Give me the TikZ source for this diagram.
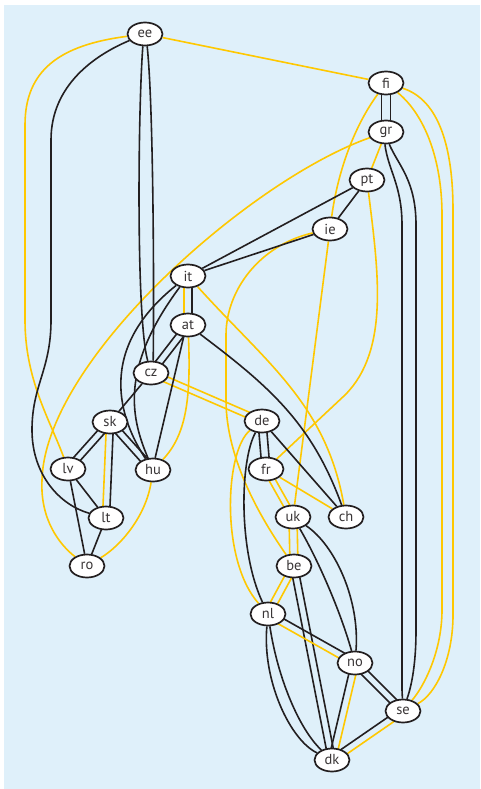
\documentclass[tikz,border=0pt]{standalone}
\usepackage{fontspec}
\setmainfont{PT Sans}
\usetikzlibrary{calc,shapes.geometric}
\definecolor{bgblue}{RGB}{223,240,250}
\definecolor{ylw}{RGB}{255,200,0}
\definecolor{blk}{RGB}{35,31,32}
\pgfdeclarelayer{bg}
\pgfdeclarelayer{edges}
\pgfsetlayers{bg,edges,main}
\tikzset{
  cnode/.style={ellipse, draw=blk, line width=1.7pt, fill=white, minimum width=35pt,
    minimum height=23pt, inner sep=0pt, font=\fontsize{14.5}{14.5}\selectfont, text=blk!90},
  bl/.style={draw=blk, line width=1.6pt},
  yl/.style={draw=ylw, line width=1.6pt},
}
% two parallel straight edges: #2 style on the +90 side, #3 style on the -90 side, #1 half gap
\newcommand\twoedge[5][3.5pt]{%
  \draw[#2] ($(#4)!#1!90:(#5)$) -- ($(#5)!#1!-90:(#4)$);
  \draw[#3] ($(#4)!#1!-90:(#5)$) -- ($(#5)!#1!90:(#4)$);}
\begin{document}
\begin{tikzpicture}[x=1pt,y=-1pt]
\useasboundingbox (0,0) rectangle (480,789);
\begin{pgfonlayer}{bg}
\fill[bgblue] (4,5) rectangle (480,789);
\end{pgfonlayer}
% nodes
\node[cnode] (ee) at (145,34) {ee};
\node[cnode] (fi) at (386,83) {fi};
\node[cnode] (gr) at (386,132) {gr};
\node[cnode] (pt) at (367,180) {pt};
\node[cnode] (ie) at (330,229) {ie};
\node[cnode] (it) at (188,276) {it};
\node[cnode] (at) at (188,325) {at};
\node[cnode] (cz) at (151,373) {cz};
\node[cnode] (sk) at (110,422) {sk};
\node[cnode] (lv) at (68,469) {lv};
\node[cnode] (hu) at (153,470) {hu};
\node[cnode] (lt) at (106,518) {lt};
\node[cnode] (ro) at (87,566) {ro};
\node[cnode] (de) at (262,421) {de};
\node[cnode] (fr) at (266,469) {fr};
\node[cnode] (uk) at (293,517) {uk};
\node[cnode] (ch) at (346,517) {ch};
\node[cnode] (be) at (294,566) {be};
\node[cnode] (nl) at (268,614) {nl};
\node[cnode] (no) at (355,663) {no};
\node[cnode] (se) at (403,711) {se};
\node[cnode] (dk) at (332,760) {dk};
\begin{pgfonlayer}{edges}
% ---- yellow edges
\draw[yl] (ee) -- (fi);
\draw[yl] (ee) .. controls (60,45) and (25,70) .. (25,125) -- (25,320) .. controls (25,380) and (50,420) .. (lv);
\draw[yl] (fi) .. controls (355,125) and (338,170) .. (ie);
\draw[yl] (fi) .. controls (425,115) and (442,160) .. (442,215) -- (442,610) .. controls (442,650) and (425,685) .. (se);
\draw[yl] (fi) .. controls (440,100) and (453,150) .. (453,210) -- (453,615) .. controls (453,660) and (435,695) .. (se);
\draw[yl] (gr) -- (pt);
\draw[yl] (gr) .. controls (250,180) and (45,360) .. (42,480) .. controls (40,520) and (60,545) .. (ro);
\draw[yl] (pt) .. controls (378,270) and (390,350) .. (345,395) -- (fr);
\draw[yl] (ie) -- (uk);
\draw[yl] (ie) .. controls (260,245) and (226,290) .. (226,335) -- (226,400) .. controls (226,460) and (262,520) .. (be);
\twoedge[3pt]{yl}{yl}{cz}{de}
\draw[yl] (it) to[out=-48,in=100] (ch);
\draw[yl] (at) .. controls (191,400) and (186,435) .. (hu);
\draw[yl] (hu) .. controls (146,515) and (122,545) .. (ro);
\draw[yl] (de) .. controls (225,450) and (220,560) .. (nl);
\twoedge[3pt]{yl}{yl}{fr}{uk}
\draw[yl] (fr) -- (ch);
\twoedge[4pt]{yl}{yl}{uk}{be}
\twoedge{yl}{yl}{be}{nl}
% ---- black edges
\draw[bl] (ee) .. controls (95,55) and (51,85) .. (51,140) -- (51,320) .. controls (51,370) and (32,385) .. (32,430) .. controls (32,475) and (60,505) .. (lt);
\draw[bl] (ee.-100) .. controls (138,110) and (136,320) .. (cz.105);
\draw[bl] (ee.-80) .. controls (154,110) and (154,320) .. (cz.80);
\twoedge[4.5pt]{bl}{bl}{fi}{gr}
\draw[bl] (gr.-95) .. controls (388,170) and (402,185) .. (402,225) -- (402,690) -- (se);
\draw[bl] (gr.-75) .. controls (398,165) and (416,180) .. (416,225) -- (416,630) .. controls (416,670) and (410,690) .. (se);
\draw[bl] (pt) -- (it);
\draw[bl] (pt) -- (ie);
\draw[bl] (ie) -- (it);
\twoedge[3.8pt]{bl}{yl}{it}{at}
\draw[bl] (it) .. controls (95,350) and (120,420) .. (hu);
\draw[bl] (it) .. controls (118,370) and (132,420) .. (hu);
\twoedge{bl}{bl}{at}{cz}
\draw[bl] (at.-110) -- (hu.80);
\draw[bl] (at) to[out=-37,in=110] (ch);
\draw[bl] (cz) -- (sk);
\twoedge{bl}{bl}{sk}{lv}
\twoedge{bl}{bl}{sk}{hu}
\twoedge{bl}{yl}{sk}{lt}
\draw[bl] (lv) -- (lt);
\draw[bl] (lv) -- (ro);
\draw[bl] (lt) -- (ro);
\twoedge[4pt]{bl}{bl}{de}{fr}
\draw[bl] (de) -- (ch);
\draw[bl] (de) .. controls (240,460) and (238,550) .. (nl);
\draw[bl] (uk) .. controls (318,560) and (340,610) .. (no);
\draw[bl] (uk) .. controls (335,545) and (360,600) .. (no);
\twoedge{bl}{bl}{be}{dk}
\draw[bl] (nl) .. controls (262,680) and (290,740) .. (dk);
\draw[bl] (nl) .. controls (278,680) and (300,730) .. (dk);
\twoedge{bl}{yl}{nl}{no}
\twoedge{bl}{bl}{no}{se}
\twoedge{yl}{bl}{no}{dk}
\twoedge{yl}{bl}{se}{dk}
\end{pgfonlayer}
\end{tikzpicture}
\end{document}
